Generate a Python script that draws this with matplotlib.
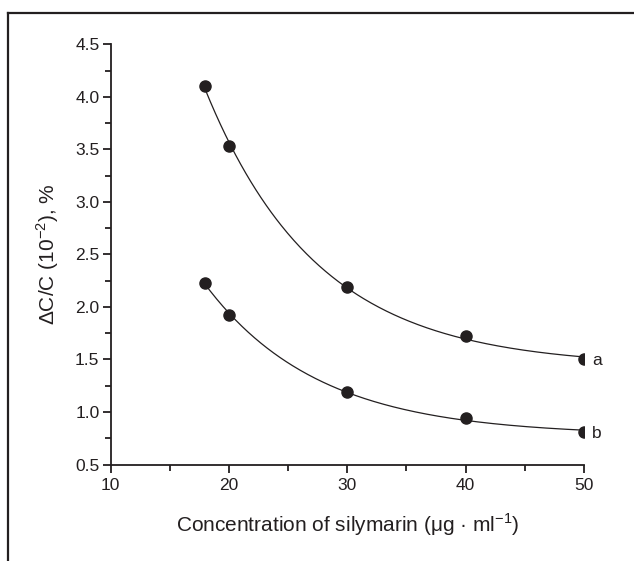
import numpy as np
import matplotlib.pyplot as plt
from matplotlib.lines import Line2D
from matplotlib.ticker import MultipleLocator

plt.rcParams["font.family"] = ["Liberation Sans", "DejaVu Sans"]
plt.rcParams["mathtext.fontset"] = "custom"
plt.rcParams["mathtext.rm"] = "Liberation Sans"

conc = [18, 20, 30, 40, 50]
curve_a = [4.10, 3.53, 2.19, 1.72, 1.50]
curve_b = [2.23, 1.92, 1.19, 0.94, 0.81]
labels = ["a", "b"]

ink = "#231f20"


def expdec_fit(x, y):
    # y = y0 + A*exp(-x/t), grid over t, linear least squares for y0, A
    x = np.asarray(x, float)
    y = np.asarray(y, float)
    best = None
    for t in np.linspace(1, 60, 1200):
        M = np.column_stack([np.ones_like(x), np.exp(-x / t)])
        coef, *_ = np.linalg.lstsq(M, y, rcond=None)
        err = np.sum((M @ coef - y) ** 2)
        if best is None or err < best[0]:
            best = (err, t, coef)
    _, t, coef = best
    return lambda xx: coef[0] + coef[1] * np.exp(-xx / t)


fig = plt.figure(figsize=(6.34, 5.61), dpi=100)
ax = fig.add_axes([0.1743, 0.172, 0.9211 - 0.1743, 0.921 - 0.172])

xs = np.linspace(min(conc), max(conc), 300)
for ys, lab in zip([curve_a, curve_b], labels):
    f = expdec_fit(conc, ys)
    ax.plot(xs, f(xs), color=ink, lw=0.9)
    ax.plot(conc, ys, "o", color=ink, ms=8, mec=ink)
    ax.annotate(lab, (conc[-1], ys[-1]), xytext=(6, -1), textcoords="offset points",
                va="center", ha="left", fontsize=12.5, color=ink)

ax.set_xlim(10, 50)
ax.set_ylim(0.5, 4.5)
ax.xaxis.set_major_locator(MultipleLocator(10))
ax.xaxis.set_minor_locator(MultipleLocator(5))
ax.yaxis.set_major_locator(MultipleLocator(0.5))
ax.yaxis.set_minor_locator(MultipleLocator(0.25))
ax.yaxis.set_major_formatter(plt.FormatStrFormatter("%.1f"))

for s in ["top", "right"]:
    ax.spines[s].set_visible(False)
for s in ["left", "bottom"]:
    ax.spines[s].set_linewidth(1.3)
    ax.spines[s].set_color(ink)

ax.tick_params(which="major", direction="out", length=6, width=1.3, color=ink,
               labelsize=12.5, labelcolor=ink, pad=2)
ax.tick_params(axis="x", which="major", pad=4)
ax.tick_params(which="minor", direction="out", length=4, width=1.3, color=ink)

ax.set_xlabel("Concentration of silymarin (\u03bcg \u00b7 ml$^{\\mathregular{-1}}$)",
              fontsize=15, color=ink, labelpad=13)
ax.set_ylabel("\u0394C/C (10$^{\\mathregular{-2}}$), %", fontsize=15, color=ink,
              labelpad=10)

# frame around the figure (left and top edges)
fig.add_artist(Line2D([0.0134, 0.0134], [0, 0.976], color=ink, lw=1.6))
fig.add_artist(Line2D([0.0134, 1.0], [0.976, 0.976], color=ink, lw=1.6))

fig.savefig("out.png", dpi=100)
